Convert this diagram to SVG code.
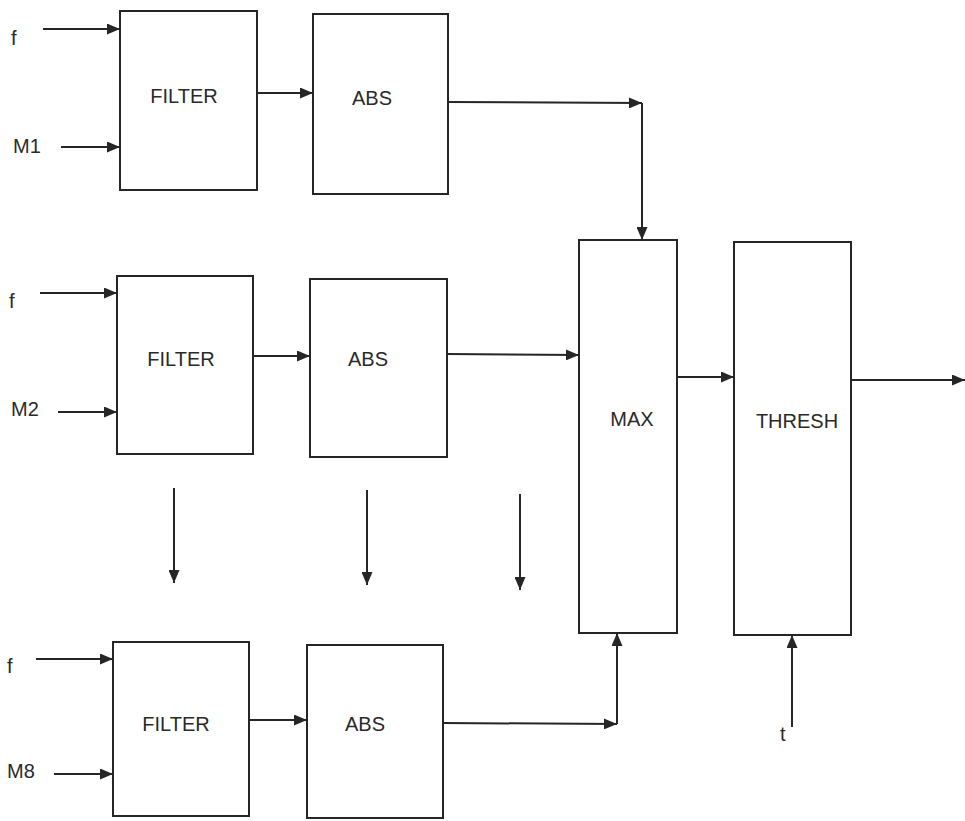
<svg xmlns="http://www.w3.org/2000/svg" width="965" height="821" viewBox="0 0 965 821">
<style>
.box{fill:none;stroke:#262626;stroke-width:2}
.ln{fill:none;stroke:#262626;stroke-width:2;marker-end:url(#ah)}
text{font-family:"Liberation Sans",Arial,sans-serif;font-size:20px;fill:#2a2a2a}
.c{text-anchor:middle}
</style>
<defs>
<marker id="ah" viewBox="0 0 13 11" refX="13" refY="5.5" markerWidth="13" markerHeight="11" markerUnits="userSpaceOnUse" orient="auto">
<path d="M0,0 L13,5.5 L0,11 Z" fill="#262626"/>
</marker>
</defs>
<rect width="965" height="821" fill="#fff"/>
<g id="filter1"><rect class="box" x="120" y="11" width="137" height="179"/><text class="c" x="184" y="103">FILTER</text></g>
<g id="abs1"><rect class="box" x="313" y="14" width="135" height="180"/><text class="c" x="372" y="105">ABS</text></g>
<g id="filter2"><rect class="box" x="117" y="276" width="136" height="178"/><text class="c" x="181" y="366">FILTER</text></g>
<g id="abs2"><rect class="box" x="310" y="279" width="137" height="178"/><text class="c" x="368" y="366">ABS</text></g>
<g id="filter8"><rect class="box" x="113" y="642" width="136" height="174"/><text class="c" x="176" y="731">FILTER</text></g>
<g id="abs8"><rect class="box" x="307" y="645" width="136" height="173"/><text class="c" x="365" y="731">ABS</text></g>
<g id="max"><rect class="box" x="579" y="240" width="98" height="393"/><text class="c" x="632" y="426">MAX</text></g>
<g id="thresh"><rect class="box" x="734" y="242" width="117" height="393"/><text class="c" x="797" y="428">THRESH</text></g>
<g id="labels">
<text x="11" y="45">f</text>
<text x="13" y="153">M1</text>
<text x="9" y="308">f</text>
<text x="11" y="416">M2</text>
<text x="7" y="673">f</text>
<text x="7" y="778">M8</text>
<text x="780" y="741">t</text>
</g>
<g id="connectors">
<line class="ln" x1="43" y1="29" x2="120" y2="29"/>
<line class="ln" x1="61" y1="147" x2="120" y2="147"/>
<line class="ln" x1="257" y1="93" x2="313" y2="93"/>
<line class="ln" x1="448" y1="102" x2="642" y2="103"/>
<line class="ln" x1="642" y1="103" x2="642" y2="240"/>
<line class="ln" x1="40" y1="293" x2="117" y2="293"/>
<line class="ln" x1="58" y1="412" x2="117" y2="412"/>
<line class="ln" x1="253" y1="356" x2="310" y2="356"/>
<line class="ln" x1="447" y1="354" x2="579" y2="355"/>
<line class="ln" x1="36" y1="659" x2="113" y2="659"/>
<line class="ln" x1="54" y1="774" x2="113" y2="774"/>
<line class="ln" x1="249" y1="720" x2="307" y2="720"/>
<line class="ln" x1="443" y1="723" x2="617" y2="724"/>
<line class="ln" x1="617" y1="724" x2="617" y2="633"/>
<line class="ln" x1="677" y1="377" x2="734" y2="377"/>
<line class="ln" x1="851" y1="380" x2="965" y2="380"/>
<line class="ln" x1="792" y1="727" x2="792" y2="635"/>
<line class="ln" x1="174" y1="488" x2="174" y2="583"/>
<line class="ln" x1="367" y1="490" x2="367" y2="585"/>
<line class="ln" x1="520" y1="494" x2="520" y2="590"/>
</g>
</svg>
